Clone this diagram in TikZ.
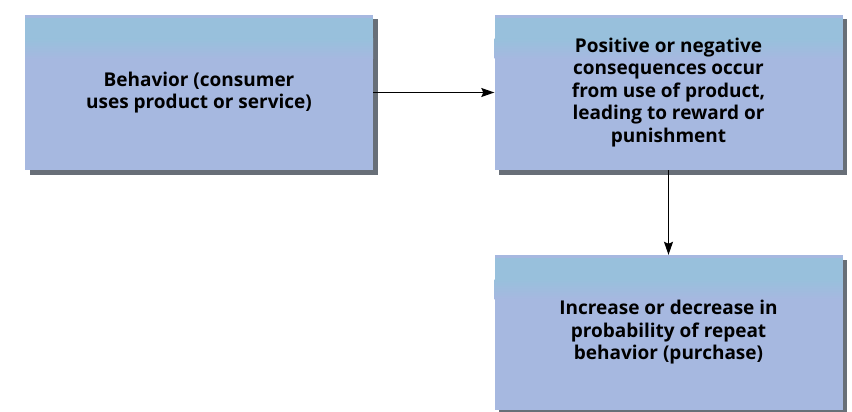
\documentclass[tikz,border=0pt]{standalone}
\usepackage{fontspec}
\setmainfont{Open Sans}
\usepackage{tikz}
\usetikzlibrary{positioning,shadows,arrows.meta}
\definecolor{boxblue}{RGB}{166,184,224}
\definecolor{bandblue}{RGB}{152,192,220}
\definecolor{shadowgray}{RGB}{88,96,106}
\tikzset{
	stagebox/.style={fill=boxblue, minimum width=348pt, minimum height=155pt,
		align=center, inner sep=0pt, font=\fontsize{19}{22.5}\selectfont\bfseries,
		drop shadow={shadow xshift=4.5pt, shadow yshift=-4.5pt, fill=shadowgray, opacity=0.9},
		path picture={
			\fill[bandblue] ([yshift=-3pt]path picture bounding box.north west) rectangle
				([yshift=-24pt]path picture bounding box.north east);
			\shade[top color=bandblue, bottom color=boxblue]
				([yshift=-24pt]path picture bounding box.north west) rectangle
				([yshift=-44pt]path picture bounding box.north east);}},
	flow/.style={-{Stealth[length=13pt,width=9pt,inset=2pt]}, line width=1pt}
}

\begin{document}
\begin{tikzpicture}[x=1pt, y=-1pt]
	\useasboundingbox[fill=white] (0,0) rectangle (852,412);
	\node[stagebox] (behavior) at (199,92.5) {Behavior (consumer\\uses product or service)};
	\node[stagebox] (consequence) at (668.5,92.5) {Positive or negative\\consequences occur\\from use of product,\\leading to reward or\\punishment};
	\node[stagebox] (probability) at (668.5,332.5) {Increase or decrease in\\probability of repeat\\behavior (purchase)};
	\draw[flow] (behavior) -- (consequence);
	\draw[flow] (consequence) -- (probability);
\end{tikzpicture}
\end{document}
